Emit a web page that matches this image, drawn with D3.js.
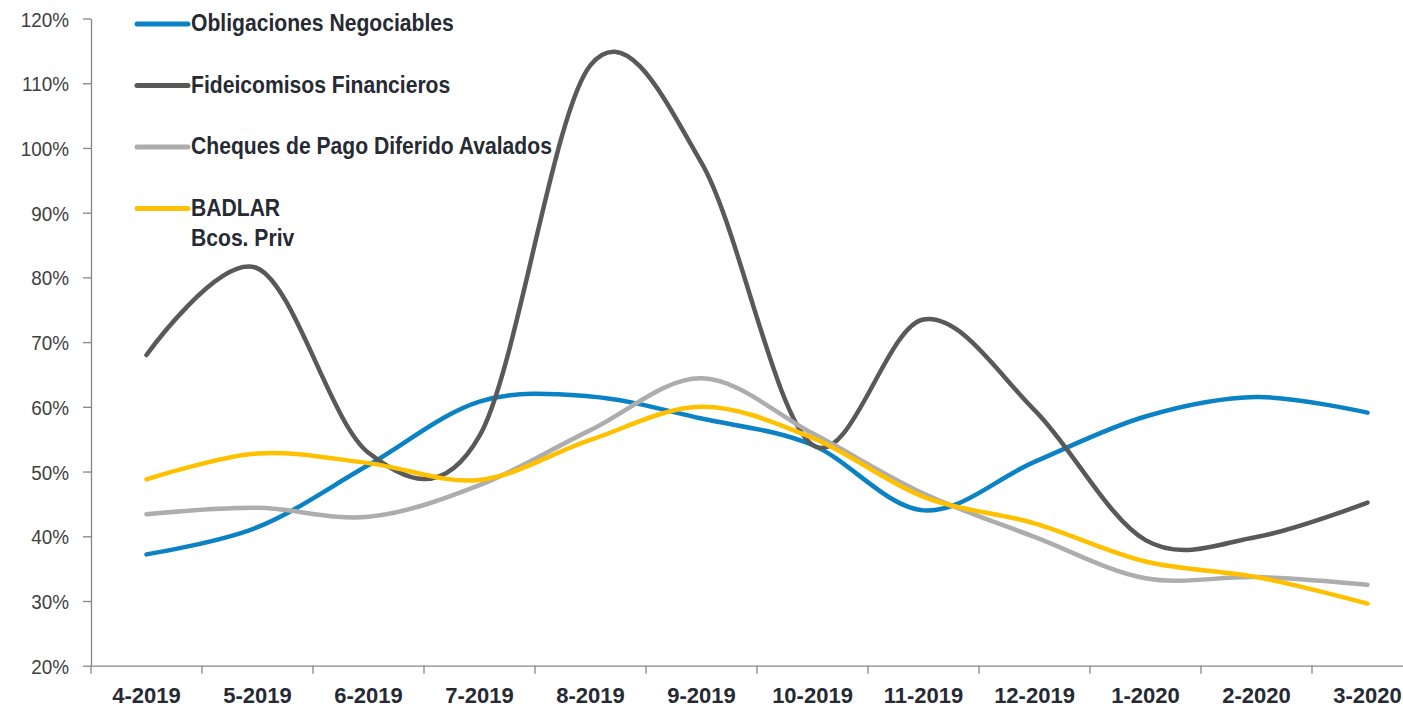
<!DOCTYPE html>
<html>
<head>
<meta charset="utf-8">
<script src="https://cdn.jsdelivr.net/npm/d3@7"></script>
<style>
  html, body { margin: 0; padding: 0; background: #fff; }
  svg { display: block; }
</style>
</head>
<body>
<svg id="chart" width="1403" height="710"></svg>
<script>
const categories = ["4-2019","5-2019","6-2019","7-2019","8-2019","9-2019","10-2019","11-2019","12-2019","1-2020","2-2020","3-2020"];
const obligaciones = [37.2, 41.4, 51.0, 60.8, 61.6, 58.2, 54.1, 44.0, 51.5, 58.5, 61.5, 59.1];
const fideicomisos = [68.0, 81.4, 52.9, 55.5, 112.8, 97.7, 54.1, 73.5, 59.5, 39.4, 39.9, 45.2];
const cheques = [43.4, 44.4, 43.0, 47.9, 56.4, 64.4, 55.9, 46.6, 39.9, 33.5, 33.7, 32.5];
const badlar = [48.8, 52.8, 51.3, 48.7, 54.9, 60.0, 55.2, 46.1, 42.0, 36.1, 33.7, 29.6];
const seriesNames = [["Obligaciones Negociables"], ["Fideicomisos Financieros"], ["Cheques de Pago Diferido Avalados"], ["BADLAR", "Bcos. Priv"]];
const yTicks = [20, 30, 40, 50, 60, 70, 80, 90, 100, 110, 120];

const colors = ["#0A82C4", "#595959", "#ADADAD", "#FFC000"];
const seriesValues = [obligaciones, fideicomisos, cheques, badlar];

const svg = d3.select("#chart");
const axisColor = "#868686";
const FONT = "'Liberation Sans', Arial, sans-serif";

const x = d3.scaleBand().domain(categories).range([91, 91 + 111 * 12]).padding(0);
const y = d3.scaleLinear().domain([20, 120]).range([665.7, 18.5]);

// Y axis
const ySx = 0.9;
const yAxis = svg.append("g").attr("transform", "translate(91,0)")
  .call(d3.axisLeft(y).tickValues(yTicks).tickFormat(d => d + "%").tickSize(8).tickSizeOuter(0));
yAxis.select(".domain").attr("stroke", axisColor).attr("stroke-width", 1.3);
yAxis.selectAll(".tick line").attr("stroke", axisColor).attr("stroke-width", 1.3);
yAxis.selectAll(".tick text")
  .attr("x", -22 / ySx)
  .attr("dy", "0.36em")
  .attr("transform", "scale(" + ySx + ",1)")
  .attr("fill", "#404040")
  .style("font-family", FONT)
  .style("font-size", "21px");

// X axis
const xAxis = svg.append("g").attr("transform", "translate(0," + y(20) + ")")
  .call(d3.axisBottom(x).tickSize(0).tickSizeOuter(0));
xAxis.select(".domain").attr("stroke", axisColor).attr("stroke-width", 1.3);
xAxis.selectAll(".tick text")
  .attr("y", 37.5)
  .attr("dy", 0)
  .attr("fill", "#262a33")
  .style("font-family", FONT)
  .style("font-weight", "bold")
  .style("font-size", "22px");
// boundary tick marks
xAxis.selectAll(".bound").data(categories).enter().append("line")
  .attr("class", "bound")
  .attr("x1", d => x(d)).attr("x2", d => x(d))
  .attr("y1", 0).attr("y2", 8)
  .attr("stroke", axisColor).attr("stroke-width", 1.3);

// Lines
const line = d3.line()
  .x((d, i) => x(categories[i]) + x.bandwidth() / 2)
  .y(d => y(d))
  .curve(d3.curveCardinal.tension(0));

seriesValues.forEach((vals, k) => {
  svg.append("path")
    .datum(vals)
    .attr("d", line)
    .attr("fill", "none")
    .attr("stroke", colors[k])
    .attr("stroke-width", 4.5)
    .attr("stroke-linecap", "round")
    .attr("stroke-linejoin", "round");
});

// Legend
const lgSx = 0.88;
const legend = svg.append("g").attr("transform", "translate(137,24)");
seriesNames.forEach((lines, k) => {
  const g = legend.append("g").attr("transform", "translate(0," + (k * 61.5) + ")");
  g.append("line").attr("x1", 0).attr("x2", 51).attr("y1", 0).attr("y2", 0)
    .attr("stroke", colors[k]).attr("stroke-width", 5).attr("stroke-linecap", "round");
  lines.forEach((t, j) => {
    g.append("text")
      .attr("transform", "translate(54," + (7 + j * 30) + ") scale(" + lgSx + ",1)")
      .attr("fill", "#262a33")
      .style("font-family", FONT)
      .style("font-weight", "bold")
      .style("font-size", "24px")
      .text(t);
  });
});
</script>
</body>
</html>
